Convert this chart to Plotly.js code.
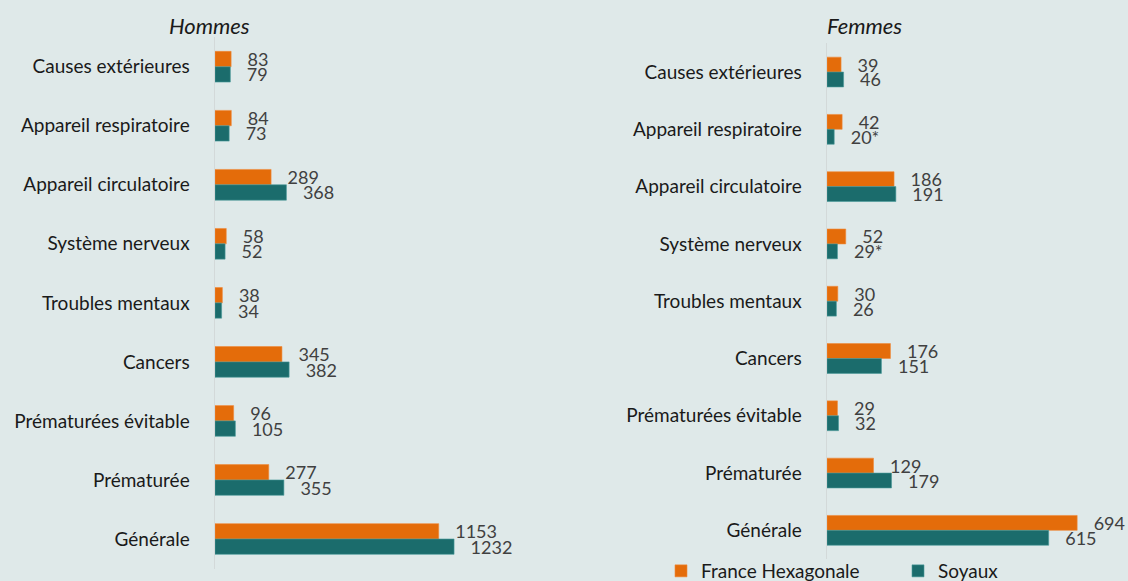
<!DOCTYPE html>
<html>
<head>
<meta charset="utf-8">
<script src="https://cdn.plot.ly/plotly-3.0.1.min.js"></script>
<style>html,body{margin:0;padding:0;background:#dfe9e9;overflow:hidden;}#chart{width:1128px;height:581px;}</style>
</head>
<body>
<div id="chart"></div>
<script>
const categories = ['Causes extérieures','Appareil respiratoire','Appareil circulatoire','Système nerveux','Troubles mentaux','Cancers','Prématurées évitable','Prématurée','Générale'];
const hommesFrance = [83,84,289,58,38,345,96,277,1153];
const hommesSoyaux = [79,73,368,52,34,382,105,355,1232];
const femmesFrance = [39,42,186,52,30,176,29,129,694];
const femmesSoyaux = [46,20,191,29,26,151,32,179,615];
const femmesSoyauxNote = ['','*','','*','','','','',''];
const femmesFranceNote = ['','','','','','','','',''];
const hommesNote = ['','','','','','','','',''];
const seriesNames = ['France Hexagonale','Soyaux'];
const panelTitles = ['Hommes','Femmes'];

const ORANGE = '#e46c0a', TEAL = '#1b6c6c';
const FONT = 'Lato, "Open Sans", sans-serif';
const PAD = '\u2002\u2005';

function lab(vals, notes){ return vals.map((v,i)=> PAD + v + notes[i]); }

function bar(vals, notes, name, color, xa, ya, show){
  return {type:'bar', orientation:'h', x: vals, y: categories, name: name,
    marker:{color: color, line:{color: color==ORANGE? '#f08a3a':'#4a9a9a', width:0.6}},
    text: lab(vals, notes), textposition:'outside', constraintext:'none', cliponaxis:false,
    outsidetextfont:{family: FONT, size:18, color:'#404040'},
    xaxis: xa, yaxis: ya, showlegend: show, legendgroup: name, hoverinfo:'x+y'};
}

const data = [
  bar(hommesFrance, hommesNote, seriesNames[0], ORANGE, 'x', 'y', true),
  bar(hommesSoyaux, hommesNote, seriesNames[1], TEAL, 'x', 'y', true),
  bar(femmesFrance, femmesFranceNote, seriesNames[0], ORANGE, 'x2', 'y2', false),
  bar(femmesSoyaux, femmesSoyauxNote, seriesNames[1], TEAL, 'x2', 'y2', false)
];

const W = 1128, H = 581;
const yax = (dom, anchor)=>({domain: dom, anchor: anchor, type:'category', autorange:'reversed',
  showline:true, linecolor:'#d3d9d9', linewidth:1.5, showgrid:false, zeroline:false, ticks:'',
  ticklabelstandoff: 20, tickfont:{family: FONT, size:19, color:'#1a1a1a'}, fixedrange:true, automargin:false});
const xax = (dom, rng, anchor)=>({domain: dom, range: rng, anchor: anchor, visible:false, showgrid:false, zeroline:false, fixedrange:true, automargin:false});

const layout = {
  width: W, height: H,
  paper_bgcolor:'#dfe9e9', plot_bgcolor:'#dfe9e9',
  margin:{l:0,r:0,t:0,b:0, autoexpand:false},
  barmode:'group', bargap:0.48, bargroupgap:0,
  font:{family: FONT, color:'#1a1a1a'},
  xaxis: xax([215/W, 560/W], [0, 1778], 'y'),
  yaxis: yax([1-568.5/H, 1-37.2/H], 'x'),
  xaxis2: xax([827/W, 1], [0, 835], 'y2'),
  yaxis2: yax([1-559/H, 1-43.4/H], 'x2'),
  showlegend: true,
  legend:{orientation:'h', x: 661/W, xanchor:'left', y: (H-571)/H, yanchor:'middle',
    font:{family: FONT, size:19, color:'#1a1a1a'}, bgcolor:'rgba(0,0,0,0)', entrywidth: 192, traceorder:'normal'},
  annotations:[
    {text: panelTitles[0], xref:'paper', yref:'paper', x: 209/W, y: 1-25/H, xanchor:'center', yanchor:'middle', showarrow:false, font:{family: FONT, size:22, color:'#1a1a1a', style:'italic'}},
    {text: panelTitles[1], xref:'paper', yref:'paper', x: 864/W, y: 1-26/H, xanchor:'center', yanchor:'middle', showarrow:false, font:{family: FONT, size:22, color:'#1a1a1a', style:'italic'}}
  ]
};

Plotly.newPlot('chart', data, layout, {displayModeBar:false, staticPlot:true});
</script>
</body>
</html>
